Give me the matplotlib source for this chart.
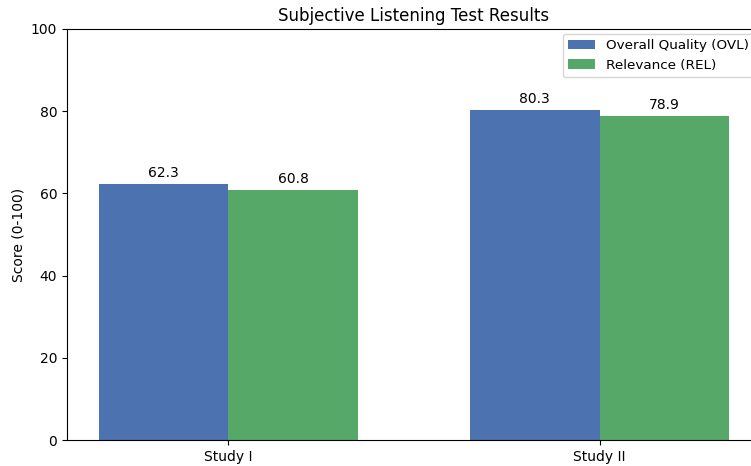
import matplotlib
matplotlib.use("Agg")
import matplotlib.pyplot as plt
import numpy as np

studies = ["Study I", "Study II"]
ovl = [62.3, 80.3]
rel = [60.8, 78.9]
series_labels = ["Overall Quality (OVL)", "Relevance (REL)"]

fig = plt.figure(figsize=(7.51, 4.66), dpi=100)
ax = fig.add_axes([67/751, 26/466, (761-67)/751, (440-29)/466])
x = np.arange(len(studies))
w = 0.35
b1 = ax.bar(x - w/2, ovl, w, color="#4C72B0", label=series_labels[0])
b2 = ax.bar(x + w/2, rel, w, color="#55A868", label=series_labels[1])
for bars in (b1, b2):
    for r in bars:
        ax.annotate(f"{r.get_height():.1f}", (r.get_x() + r.get_width()/2, r.get_height()),
                    xytext=(0, 3), textcoords="offset points", ha="center", va="bottom", fontsize=10)
ax.set_xticks(x)
ax.set_xticklabels(studies)
ax.set_ylim(0, 100)
ax.set_ylabel("Score (0-100)")
ax.set_title("Subjective Listening Test Results", fontsize=12)
ax.legend(loc="upper right", fontsize=9.7, bbox_to_anchor=(1, 1 + 2/411))
fig.savefig("out.png", dpi=100)
